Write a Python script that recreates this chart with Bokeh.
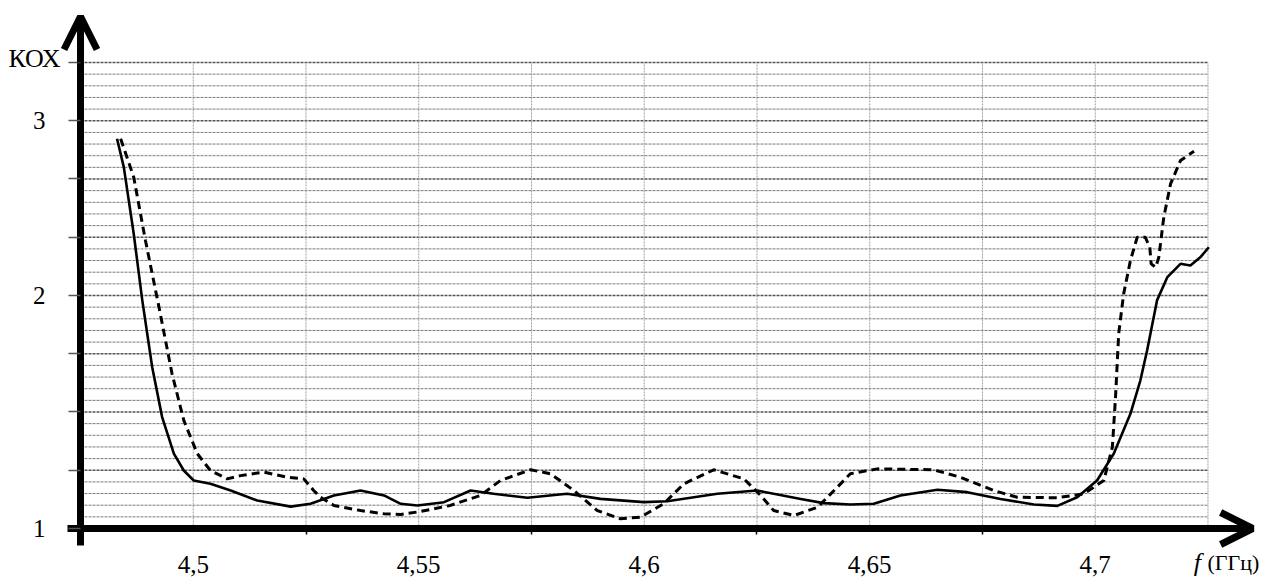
import numpy as np
from bokeh.plotting import figure
from bokeh.models import Range1d, LinearAxis, FixedTicker, Arrow, OpenHead, Label
from bokeh.embed import file_html
from bokeh.resources import INLINE

# ---- data ----
freq_solid = [4.4831, 4.4846, 4.4868, 4.4887, 4.4909, 4.4931, 4.4957, 4.4979, 4.5001, 4.5038,
              4.5083, 4.5142, 4.5216, 4.5260, 4.5312, 4.5371, 4.5423, 4.5460, 4.5497, 4.5556,
              4.5615, 4.5666, 4.5741, 4.5829, 4.5903, 4.5999, 4.6051, 4.6162, 4.6250, 4.6347,
              4.6398, 4.6457, 4.6509, 4.6568, 4.6650, 4.6716, 4.6790, 4.6864, 4.6916, 4.6960,
              4.7004, 4.7041, 4.7078, 4.7100, 4.7115, 4.7137, 4.7160, 4.7189, 4.7211, 4.7233, 4.7252]
kox_solid = [2.673, 2.551, 2.265, 1.979, 1.692, 1.478, 1.321, 1.249, 1.206, 1.192,
             1.163, 1.120, 1.094, 1.106, 1.142, 1.163, 1.142, 1.106, 1.099, 1.113,
             1.163, 1.149, 1.132, 1.149, 1.127, 1.113, 1.117, 1.149, 1.163, 1.127,
             1.109, 1.103, 1.106, 1.142, 1.166, 1.156, 1.127, 1.103, 1.097, 1.134,
             1.206, 1.321, 1.492, 1.635, 1.764, 1.979, 2.079, 2.136, 2.129, 2.164, 2.207]

freq_dashed = [4.4839, 4.4868, 4.4894, 4.4924, 4.4953, 4.4979, 4.5009, 4.5038, 4.5075, 4.5105,
               4.5156, 4.5208, 4.5245, 4.5267, 4.5282, 4.5312, 4.5371, 4.5423, 4.5460, 4.5504,
               4.5570, 4.5637, 4.5681, 4.5748, 4.5792, 4.5844, 4.5896, 4.5947, 4.5992, 4.6043,
               4.6088, 4.6154, 4.6221, 4.6258, 4.6287, 4.6332, 4.6384, 4.6428, 4.6457, 4.6517,
               4.6642, 4.6701, 4.6775, 4.6827, 4.6916, 4.6975, 4.7019, 4.7038, 4.7045, 4.7052,
               4.7063, 4.7078, 4.7093, 4.7111, 4.7121, 4.7124, 4.7134, 4.7141, 4.7152, 4.7167,
               4.7189, 4.7219]
kox_dashed = [2.673, 2.508, 2.236, 1.950, 1.664, 1.464, 1.321, 1.249, 1.213, 1.227,
              1.242, 1.220, 1.213, 1.163, 1.134, 1.099, 1.077, 1.063, 1.060, 1.073,
              1.099, 1.142, 1.206, 1.252, 1.235, 1.163, 1.077, 1.042, 1.049, 1.106,
              1.192, 1.252, 1.213, 1.142, 1.077, 1.056, 1.091, 1.177, 1.235, 1.256,
              1.252, 1.220, 1.163, 1.134, 1.132, 1.149, 1.206, 1.349, 1.564, 1.836,
              2.007, 2.150, 2.250, 2.250, 2.207, 2.136, 2.121, 2.164, 2.336, 2.479,
              2.579, 2.619]

x_ticks = [4.5, 4.55, 4.6, 4.65, 4.7]
x_tick_labels = ["4,5", "4,55", "4,6", "4,65", "4,7"]
x_minor_ticks = [4.525, 4.575, 4.625, 4.675]
y_ticks = [1.0, 2.0, 2.75]
y_tick_labels = ["1", "2", "3"]
y_minor_ticks = [1.25, 1.5, 1.75, 2.25, 2.5, 3.0]

# grid / axes extent (chart units)
x_origin, x_grid_end, x_step = 4.475, 4.725, 0.025
y_origin, y_grid_end, y_step, y_major_step = 1.0, 3.0, 0.05, 0.25
x_axis_bounds = (4.4721, 4.7349)
y_axis_bounds = (0.927, 3.1974)

FONT = "Liberation Serif"

p = figure(width=1263, height=581, output_backend="svg", toolbar_location=None,
           x_range=Range1d(4.45726, 4.73731), y_range=Range1d(0.77253, 3.26609),
           x_axis_type=None, y_axis_type=None, min_border=0)
p.outline_line_color = None
p.background_fill_color = "white"

# horizontal grid
hy = np.round(np.arange(y_origin + y_step, y_grid_end + 1e-9, y_step), 4)
frac = ((hy - y_origin) / y_major_step) % 1
is_major = np.isclose(frac, 0) | np.isclose(frac, 1)
hmin = hy[~is_major]
hmaj = hy[is_major]
p.segment(x0=[x_origin] * len(hmin), y0=hmin, x1=[x_grid_end] * len(hmin), y1=hmin,
          line_color="#7a7a7a", line_width=1, line_dash="3 1")
p.segment(x0=[x_origin] * len(hmaj), y0=hmaj, x1=[x_grid_end] * len(hmaj), y1=hmaj,
          line_color="#555555", line_width=1.4, line_dash="3 1")
# vertical grid
vx = np.round(np.arange(x_origin + x_step, x_grid_end + 1e-9, x_step), 4)
p.segment(x0=vx, y0=[y_origin] * len(vx), x1=vx, y1=[y_grid_end] * len(vx),
          line_color="#a0a0a0", line_width=1, line_dash="2 1")

# curves
p.line(freq_solid, kox_solid, line_color="black", line_width=2.6, line_join="round")
p.line(freq_dashed, kox_dashed, line_color="black", line_width=3, line_dash="8 5")

# axes
xaxis = LinearAxis(fixed_location=y_origin, bounds=x_axis_bounds,
                   ticker=FixedTicker(ticks=x_ticks, minor_ticks=x_minor_ticks),
                   major_label_overrides=dict(zip(x_ticks, x_tick_labels)))
xaxis.axis_line_width = 7
xaxis.axis_line_color = "black"
xaxis.major_tick_out = 0
xaxis.major_tick_in = 0
xaxis.major_tick_line_color = None
xaxis.minor_tick_out = 6
xaxis.minor_tick_in = 0
xaxis.minor_tick_line_width = 1.5
xaxis.minor_tick_line_color = "black"
xaxis.major_label_standoff = 22
xaxis.major_label_text_font = FONT
xaxis.major_label_text_font_size = "25px"
xaxis.major_label_text_color = "black"
p.add_layout(xaxis, "below")

yaxis = LinearAxis(fixed_location=x_origin, bounds=y_axis_bounds,
                   ticker=FixedTicker(ticks=y_ticks, minor_ticks=y_minor_ticks),
                   major_label_overrides=dict(zip(y_ticks, y_tick_labels)))
yaxis.axis_line_width = 7
yaxis.axis_line_color = "black"
yaxis.major_tick_out = 12
yaxis.major_tick_in = 0
yaxis.minor_tick_out = 12
yaxis.minor_tick_in = 0
yaxis.major_tick_line_color = "#555555"
yaxis.minor_tick_line_color = "#555555"
yaxis.major_tick_line_width = 1.4
yaxis.minor_tick_line_width = 1.4
yaxis.major_label_standoff = 23
yaxis.major_label_text_font = FONT
yaxis.major_label_text_font_size = "25px"
yaxis.major_label_text_color = "black"
p.add_layout(yaxis, "left")

# arrow heads
p.add_layout(Arrow(x_start=x_origin, y_start=y_grid_end, x_end=x_origin, y_end=y_axis_bounds[1],
                   line_width=7, line_color="black",
                   end=OpenHead(size=33, line_width=7, line_color="black")))
p.add_layout(Arrow(x_start=x_grid_end, y_start=y_origin, x_end=x_axis_bounds[1], y_end=y_origin,
                   line_width=7, line_color="black",
                   end=OpenHead(size=32, line_width=7, line_color="black")))

# axis titles
p.add_layout(Label(x=4.4648, y=3.019, text="КОХ", text_font=FONT, text_font_size="26px",
                   text_align="center", text_baseline="middle", text_color="black"))
p.add_layout(Label(x=4.72267, y=0.8541, text="f", text_font=FONT, text_font_style="italic",
                   text_font_size="26px", text_align="center", text_baseline="middle",
                   text_color="black"))
p.add_layout(Label(x=4.72489, y=0.8541, text="(ГГц)", text_font=FONT, text_font_size="22px",
                   text_align="left", text_baseline="middle", text_color="black"))

open("out.html", "w").write(file_html(p, INLINE))
